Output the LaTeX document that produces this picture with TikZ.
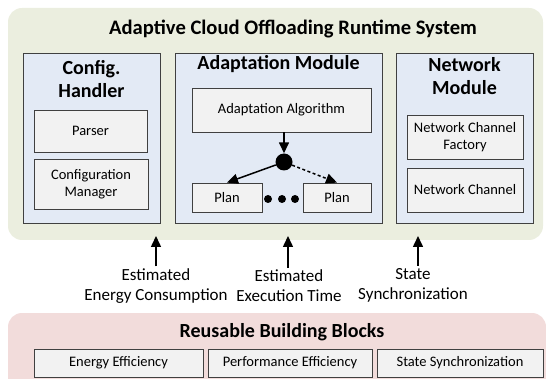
\documentclass[tikz,border=0pt]{standalone}
\usepackage{fontspec}
\setmainfont{Carlito}
\usetikzlibrary{arrows.meta}

\definecolor{runbg}{HTML}{EBEEDF}
\definecolor{modbg}{HTML}{E3EAF5}
\definecolor{partbg}{HTML}{F2F2F2}
\definecolor{blockbg}{HTML}{F2DCDB}
\definecolor{edge}{HTML}{404040}

\begin{document}
\begin{tikzpicture}[
        x=1pt, y=-1pt,
        module/.style={draw=edge, fill=modbg, line width=0.8pt, minimum width=137, minimum height=170},
        part/.style={draw=edge, fill=partbg, line width=0.8pt, inner sep=0pt, align=center,
            font=\fontsize{14.5}{17.5}\selectfont},
        block/.style={part, minimum height=28},
        heading/.style={font=\bfseries\fontsize{20}{23}\selectfont, align=center, inner sep=0pt},
        inputtext/.style={font=\fontsize{17}{20}\selectfont, align=center, inner sep=2pt},
        flow/.style={line width=1.5pt, -{Triangle[width=10pt,length=11pt]}},
        bigdot/.style={circle, fill=black, inner sep=0pt}
    ]

    \clip (0,0) rectangle (546,379);

    % backgrounds
    \fill[runbg, rounded corners=14] (8,8) rectangle (543,240);
    \fill[blockbg, rounded corners=14] (8,313) rectangle (546,392);

    \node[heading, font=\bfseries\fontsize{20.6}{23}\selectfont] (title) at (293,29) {Adaptive Cloud Offloading Runtime System};

    % modules
    \node[module] (cfg) at (91.5,138) {};
    \node[module, minimum width=207] (adapt) at (278.5,138) {};
    \node[module] (net) at (464.5,138) {};

    \node[heading] (cfgtitle) at (91.5,79) {Config.\\Handler};
    \node[heading] (adapttitle) at (278.5,64) {Adaptation Module};
    \node[heading] (nettitle) at (464.5,76) {Network\\Module};

    \node[part, minimum width=113, minimum height=42] (parser) at (90.5,131) {Parser};
    \node[part, minimum width=114, minimum height=50] (cfgmgr) at (91,184) {Configuration\\Manager};

    \node[part, minimum width=179, minimum height=44] (algo) at (281.5,110) {Adaptation Algorithm};
    \node[bigdot, minimum size=17] (hub) at (284,162) {};
    \node[part, minimum width=70, minimum height=29] (plana) at (227,197.5) {Plan};
    \node[part, minimum width=68, minimum height=29] (planb) at (337,197.5) {Plan};
    \foreach \x [count=\i] in {268,282,295}
        \node[bigdot, minimum size=8] (more\i) at (\x,199) {};

    \draw[flow] (algo.south -| hub) -- (hub.north);
    \draw[flow] (hub) -- (plana.north);
    \draw[flow, dash pattern=on 3pt off 2.5pt] (hub) -- (planb.north);

    \node[part, minimum width=116, minimum height=44] (chfactory) at (465,137) {Network Channel\\Factory};
    \node[part, minimum width=116, minimum height=44] (channel) at (465,190) {Network Channel};

    % inputs from the building blocks
    \node[inputtext] (energyin) at (156,286) {Estimated\\Energy Consumption};
    \node[inputtext] (timein) at (289,286) {Estimated\\Execution Time};
    \node[inputtext] (statein) at (413,285) {State\\Synchronization};

    \coordinate (energytip) at (156,236);
    \coordinate (timetip) at (288,236);
    \coordinate (statetip) at (418,236);
    \draw[flow] (energyin.north -| energytip) -- (energytip);
    \draw[flow] (timein.north -| timetip) -- (timetip);
    \draw[flow] (statein.north -| statetip) -- (statetip);

    % reusable building blocks
    \node[heading] (blocktitle) at (282,332) {Reusable Building Blocks};
    \node[block, minimum width=169] (energyeff) at (118.5,363) {Energy Efficiency};
    \node[block, minimum width=164] (perfeff) at (290,363) {Performance Efficiency};
    \node[block, minimum width=166] (statesync) at (460,363) {State Synchronization};

\end{tikzpicture}
\end{document}
